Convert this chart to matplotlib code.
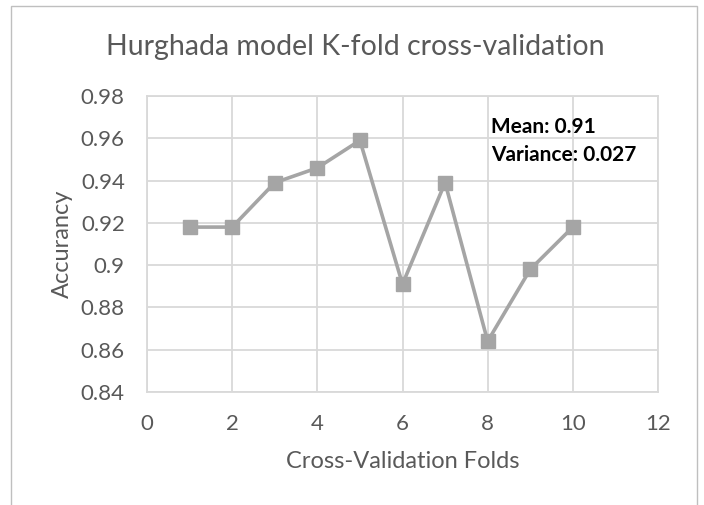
import matplotlib.pyplot as plt
from matplotlib.patches import Rectangle

plt.rcParams['font.family'] = ['Lato', 'DejaVu Sans']

# Datos de validacion cruzada
folds = [1, 2, 3, 4, 5, 6, 7, 8, 9, 10]
accuracy = [0.918, 0.918, 0.939, 0.946, 0.959, 0.891, 0.939, 0.864, 0.898, 0.918]
xticks = [0, 2, 4, 6, 8, 10, 12]
yticks = [0.84, 0.86, 0.88, 0.9, 0.92, 0.94, 0.96, 0.98]
ytick_labels = ['0.84', '0.86', '0.88', '0.9', '0.92', '0.94', '0.96', '0.98']

gris = '#595959'

fig = plt.figure(figsize=(7.04, 5.05), dpi=100)
ax = fig.add_axes([147/704, 1 - 392/505, (658 - 147)/704, (392 - 96)/505])

# borde exterior del grafico
fig.patches.append(Rectangle((11/704, -0.1), (697 - 11)/704, 1.1 - 6/505,
                             transform=fig.transFigure, fill=False,
                             edgecolor='#bfbfbf', linewidth=1))

ax.plot(folds, accuracy, color='#a5a5a5', linewidth=2.6, marker='s',
        markersize=9.5, markerfacecolor='#a5a5a5', markeredgecolor='#a5a5a5')

ax.set_xlim(0, 12)
ax.set_ylim(0.84, 0.98)
ax.set_xticks(xticks)
ax.set_yticks(yticks)
ax.set_yticklabels(ytick_labels)
ax.grid(True, color='#d9d9d9', linewidth=1.3)
ax.set_axisbelow(True)
for s in ax.spines.values():
    s.set_color('#d9d9d9')
    s.set_linewidth(1.3)
ax.tick_params(length=0, colors=gris, labelsize=16)
ax.tick_params(axis='x', pad=16)
ax.tick_params(axis='y', pad=16)

fig.text(355/704, 1 - 47/505, 'Hurghada model K-fold cross-validation',
         fontsize=20.5, color=gris, ha='center', va='center')
ax.set_xlabel('Cross-Validation Folds', fontsize=17, color=gris)
ax.set_ylabel('Accurancy', fontsize=17, color=gris)
ax.xaxis.set_label_coords(0.5, (392 - 462)/296)
ax.yaxis.set_label_coords((62 - 147)/511, 0.5)
ax.xaxis.label.set_va('center')
ax.yaxis.label.set_va('center')

ax.text(8.08, 0.9653, 'Mean: 0.91', fontsize=15, fontweight='bold', color='black', va='center')
ax.text(8.08, 0.9521, 'Variance: 0.027', fontsize=15, fontweight='bold', color='black', va='center')

fig.savefig('out.png', dpi=100)
